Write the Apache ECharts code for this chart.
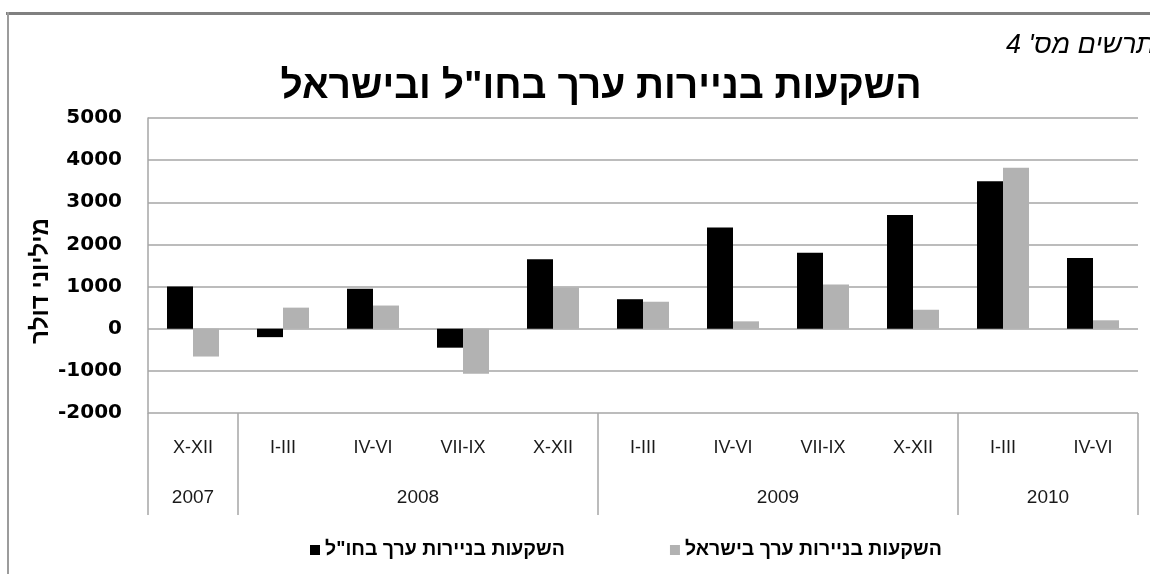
<!DOCTYPE html>
<html>
<head>
<meta charset="utf-8">
<script src="https://cdn.jsdelivr.net/npm/echarts@6/dist/echarts.min.js"></script>
<style>
html,body{margin:0;padding:0;background:#fff;}
#chart{width:1150px;height:574px;}
</style>
</head>
<body>
<div id="chart"></div>
<script>
// ---- data ----
var quarters = ['X-XII','I-III','IV-VI','VII-IX','X-XII','I-III','IV-VI','VII-IX','X-XII','I-III','IV-VI'];
var years = ['2007','2008','2009','2010'];
var yearSpans = [1, 4, 4, 2]; // number of quarters per year
var seriesNames = ['השקעות בניירות ערך בחו"ל', 'השקעות בניירות ערך בישראל'];
var abroad = [1000, -200, 950, -450, 1650, 700, 2400, 1800, 2700, 3500, 1680];
var israel = [-660, 500, 550, -1070, 980, 640, 175, 1050, 450, 3820, 200];
var yTicks = {min: -2000, max: 5000, interval: 1000};
var titleText = 'השקעות בניירות ערך בחו"ל ובישראל';
var yName = 'מיליוני דולר';
var figLabel = "תרשים מס' 4";

// build half-slot axis for year labels and year separators
var nSlots = quarters.length * 2;
var yearSlots = [];
for (var i = 0; i <= nSlots; i++) yearSlots.push('');
var sepIdx = {0: true};
var pos = 0;
years.forEach(function (y, k) {
  yearSlots[pos * 2 + yearSpans[k]] = y;
  pos += yearSpans[k];
  sepIdx[pos * 2] = true;
});

var HEB = 'Liberation Sans, Arial, sans-serif';
var gridColor = '#a6a6a6';

var chart = echarts.init(document.getElementById('chart'), null, {renderer: 'canvas'});
chart.setOption({
  animation: false,
  backgroundColor: '#ffffff',
  grid: {left: 148, right: 12, top: 118, bottom: 161},
  xAxis: [{
    type: 'category',
    data: quarters,
    position: 'bottom',
    axisLine: {show: false, onZero: false},
    axisTick: {show: false},
    axisLabel: {margin: 26, fontFamily: HEB, fontSize: 18, color: '#1a1a1a', interval: 0},
    splitLine: {show: false}
  }, {
    type: 'category',
    data: yearSlots,
    boundaryGap: false,
    position: 'bottom',
    axisLine: {show: false, onZero: false},
    axisTick: {
      show: true, inside: false, length: 102,
      interval: function (idx) { return !!sepIdx[idx]; },
      lineStyle: {color: gridColor, width: 1.5}
    },
    axisLabel: {margin: 75, fontFamily: HEB, fontSize: 19, color: '#1a1a1a', interval: 0},
    splitLine: {show: false}
  }],
  yAxis: {
    type: 'value',
    min: yTicks.min, max: yTicks.max, interval: yTicks.interval,
    axisLine: {show: true, lineStyle: {color: gridColor, width: 1.5}},
    axisTick: {show: false},
    axisLabel: {margin: 26, fontFamily: 'DejaVu Sans, sans-serif', fontWeight: 'bold', fontSize: 20, color: '#000',
      formatter: function (v) { return String(v); }},
    splitLine: {show: true, lineStyle: {color: gridColor, width: 1.5}}
  },
  legend: {
    left: 305, top: 535,
    itemWidth: 10, itemHeight: 10, itemGap: 105,
    icon: 'rect',
    textStyle: {fontFamily: HEB, fontSize: 19.5, fontWeight: 'bold', color: '#000'},
    data: seriesNames
  },
  series: [{
    name: seriesNames[0], type: 'bar', xAxisIndex: 0,
    data: abroad, barWidth: 26, barGap: '0%',
    itemStyle: {color: '#000000'}
  }, {
    name: seriesNames[1], type: 'bar', xAxisIndex: 0,
    data: israel, barWidth: 26, barGap: '0%',
    itemStyle: {color: '#b2b2b2'}
  }],
  graphic: [
    {type: 'rect', shape: {x: 6, y: 12, width: 1150, height: 3}, style: {fill: '#808080'}, silent: true},
    {type: 'rect', shape: {x: 7, y: 12, width: 2, height: 570}, style: {fill: '#9c9c9c'}, silent: true},
    {type: 'text', x: 601, y: 87, style: {text: titleText, align: 'center', verticalAlign: 'middle', font: 'bold 39px Liberation Sans, Arial, sans-serif', fill: '#000'}},
    {type: 'text', x: 1155, y: 45, style: {text: figLabel, align: 'right', verticalAlign: 'middle', font: 'italic 27px Liberation Sans, Arial, sans-serif', fill: '#000'}},
    {type: 'text', x: 41, y: 281, rotation: Math.PI / 2, style: {text: yName, align: 'center', verticalAlign: 'middle', font: 'bold 24px Liberation Sans, Arial, sans-serif', fill: '#000'}}
  ]
});
</script>
</body>
</html>
